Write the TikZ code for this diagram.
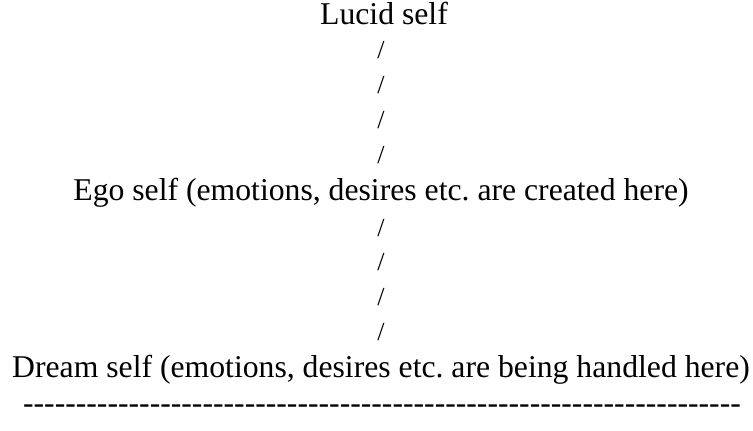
\documentclass[tikz,border=0pt]{standalone}
\usepackage{fontspec}
\setmainfont[Ligatures=TeXOff]{Liberation Serif}
\usepackage{tikz}
\usetikzlibrary{positioning}
\frenchspacing

\begin{document}
\begin{tikzpicture}[
    x=1pt, y=-1pt,
    txt/.style={anchor=base, inner sep=0pt, font=\fontsize{31.7}{38}\selectfont},
    bar/.style={anchor=center, inner sep=0pt, font=\fontsize{26}{30}\selectfont}
]
    \useasboundingbox (0,0) rectangle (753,431);

    % Levels
    \node[txt] (lucid) at (384,24) {Lucid self};
    \node[txt] (ego) at (381,200) {Ego self (emotions, desires etc. are created here)};
    \node[txt] (dream) at (381,377.5) {Dream self (emotions, desires etc. are being handled here)};

    % Slashes between lucid and ego
    \node[bar] (s1) at (381,50) {/};
    \node[bar] (s2) at (381,85) {/};
    \node[bar] (s3) at (381,120) {/};
    \node[bar] (s4) at (381,155) {/};

    % Slashes between ego and dream
    \node[bar] (s5) at (381,228) {/};
    \node[bar] (s6) at (381,262.5) {/};
    \node[bar] (s7) at (381,297) {/};
    \node[bar] (s8) at (381,332) {/};

    % Ground line
    \node[txt] (ground) at (382,413) {--------------------------------------------------------------------};
\end{tikzpicture}
\end{document}
